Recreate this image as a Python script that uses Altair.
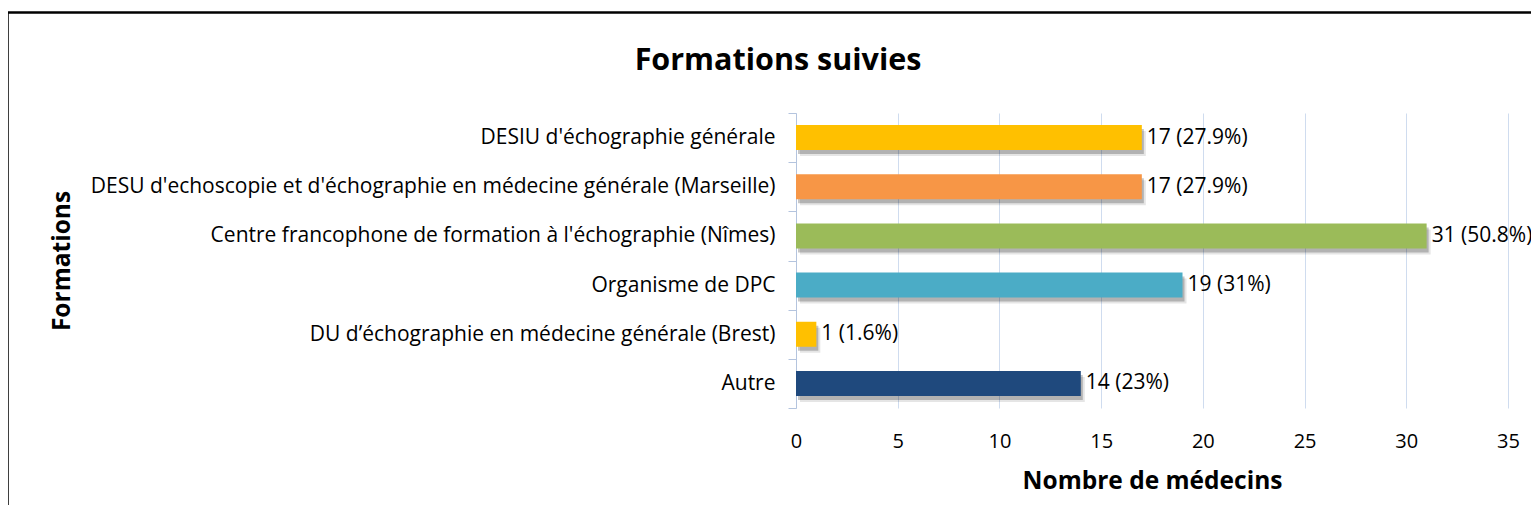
import altair as alt
import pandas as pd

categories = [
    "DESIU d'échographie générale",
    "DESU d'echoscopie et d'échographie en médecine générale (Marseille)",
    "Centre francophone de formation à l'échographie (Nîmes)",
    "Organisme de DPC",
    "DU d’échographie en médecine générale (Brest)",
    "Autre",
]
values = [17, 17, 31, 19, 1, 14]
percents = ["27.9%", "27.9%", "50.8%", "31%", "1.6%", "23%"]
colors = ["#FFC000", "#F79646", "#9BBB59", "#4BACC6", "#FFC000", "#1F497D"]
x_ticks = [0, 5, 10, 15, 20, 25, 30, 35]

df = pd.DataFrame({
    "cat": categories,
    "value": values,
    "label": [f"{v} ({p})" for v, p in zip(values, percents)],
})

FONT = "Open Sans"

y_enc = alt.Y(
    "cat:N", sort=categories,
    scale=alt.Scale(paddingInner=0, paddingOuter=0),
    axis=alt.Axis(
        title="Formations", tickBand="extent", grid=False,
        domainColor="#b4c4de", tickColor="#b4c4de", tickSize=8,
        labelPadding=13, labelFontSize=21, labelFont=FONT, labelColor="#000000",
        labelLimit=1000,
        titleFont=FONT, titleFontSize=24.5, titleFontWeight="bold", titleColor="#000000",
        titleX=-734, titleBaseline="middle", titleAngle=-90,
    ),
)
x_enc = alt.X(
    "value:Q",
    scale=alt.Scale(domain=[0, 35], nice=False),
    axis=alt.Axis(
        values=x_ticks, title="Nombre de médecins", grid=True, gridColor="#cfdcef",
        domain=False, ticks=False, tickSize=0, labelPadding=39, labelBaseline="alphabetic",
        labelFlush=False,
        labelFontSize=20, labelFont=FONT, labelColor="#000000",
        titleFont=FONT, titleFontSize=24.5, titleFontWeight="bold", titleColor="#000000",
        titleY=73, titleBaseline="middle",
    ),
)
color_enc = alt.Color("cat:N", scale=alt.Scale(domain=categories, range=colors), legend=None)

base = alt.Chart(df)

shadow2 = base.mark_bar(size=25, color="#000000", opacity=0.1, xOffset=4, x2Offset=4, yOffset=6).encode(
    x=x_enc, y=y_enc)
shadow = base.mark_bar(size=25, color="#000000", opacity=0.22, xOffset=2, x2Offset=2, yOffset=4).encode(
    x="value:Q", y=alt.Y("cat:N", sort=categories))
bars = base.mark_bar(size=25).encode(
    x="value:Q", y=alt.Y("cat:N", sort=categories), color=color_enc)
text = base.mark_text(align="left", baseline="middle", dx=5, fontSize=21, font=FONT, color="#000000").encode(
    x="value:Q", y=alt.Y("cat:N", sort=categories), text="label:N")

border = alt.Chart(pd.DataFrame({"a": [0]})).mark_rect(
    fill=None, stroke="#000000", strokeWidth=2.5).encode(
    x=alt.value(-788.5), x2=alt.value(900), y=alt.value(-100.5), y2=alt.value(600))

chart = alt.layer(shadow2, shadow, bars, text, border).properties(
    width=712, height=295,
    title=alt.TitleParams("Formations suivies", font=FONT, fontSize=30.5, fontWeight="bold",
                          color="#000000", anchor="middle", dx=-374, offset=-88.75,
                          baseline="alphabetic"),
    autosize=alt.AutoSizeParams(type="none"),
    padding={"left": 788, "top": 105, "right": 23, "bottom": 97},
).configure_view(stroke=None)

chart.save("out.html", embed_options={"renderer": "svg", "actions": False})
